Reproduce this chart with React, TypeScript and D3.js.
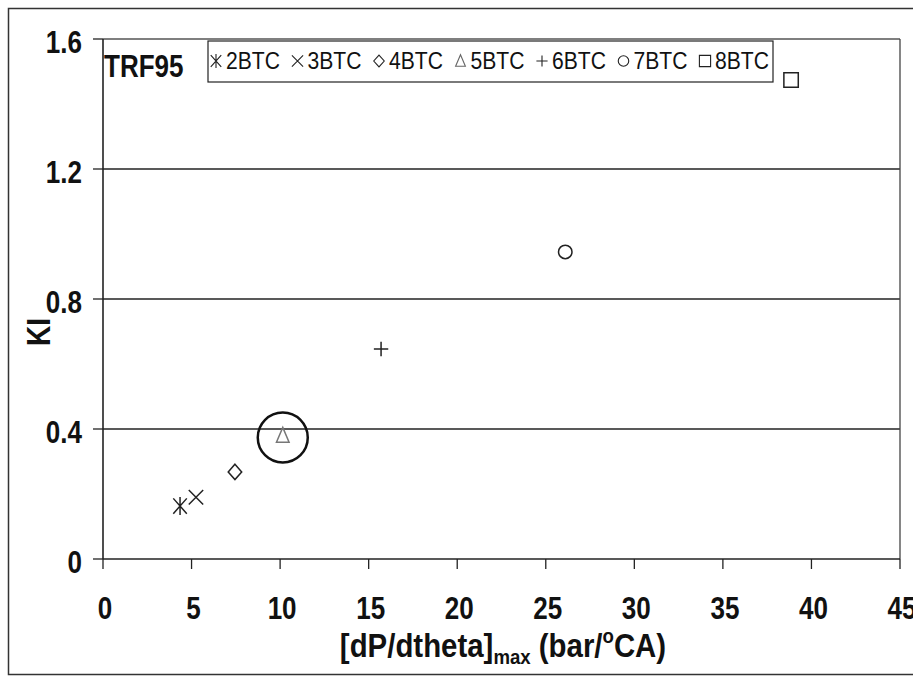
import React from 'react';
import * as d3 from 'd3';

const seriesNames = ['2BTC', '3BTC', '4BTC', '5BTC', '6BTC', '7BTC', '8BTC'];
const xValues = [4.35, 5.25, 7.45, 10.15, 15.7, 26.1, 38.85];
const yValues = [0.163, 0.19, 0.268, 0.38, 0.646, 0.945, 1.474];
const markerTypes = ['asterisk', 'times', 'diamond', 'triangle', 'plus', 'circle', 'square'];
const xTicks = [0, 5, 10, 15, 20, 25, 30, 35, 40, 45];
const yTicks = [0, 0.4, 0.8, 1.2, 1.6];
const yTickLabels = ['0', '0.4', '0.8', '1.2', '1.6'];
const gridValues = [0.4, 0.8, 1.2];
const highlighted = '5BTC';
const chartTag = 'TRF95';

const FONT = "'Liberation Sans', Arial, Helvetica, sans-serif";

function markerPath(type: string, s: number): string {
  const p = d3.path();
  switch (type) {
    case 'asterisk':
      p.moveTo(0, -s); p.lineTo(0, s);
      p.moveTo(-0.75 * s, -0.85 * s); p.lineTo(0.75 * s, 0.85 * s);
      p.moveTo(0.75 * s, -0.85 * s); p.lineTo(-0.75 * s, 0.85 * s);
      break;
    case 'times':
      p.moveTo(-0.8 * s, -0.8 * s); p.lineTo(0.8 * s, 0.8 * s);
      p.moveTo(0.8 * s, -0.8 * s); p.lineTo(-0.8 * s, 0.8 * s);
      break;
    case 'diamond':
      p.moveTo(0, -0.85 * s); p.lineTo(0.75 * s, 0); p.lineTo(0, 0.85 * s); p.lineTo(-0.75 * s, 0); p.closePath();
      break;
    case 'triangle':
      p.moveTo(0, -0.9 * s); p.lineTo(0.7 * s, 0.75 * s); p.lineTo(-0.7 * s, 0.75 * s); p.closePath();
      break;
    case 'plus':
      p.moveTo(-0.8 * s, 0); p.lineTo(0.8 * s, 0);
      p.moveTo(0, -0.8 * s); p.lineTo(0, 0.8 * s);
      break;
    case 'circle':
      p.moveTo(0.75 * s, 0); p.arc(0, 0, 0.75 * s, 0, Math.PI * 2);
      break;
    case 'square':
      p.rect(-0.8 * s, -0.8 * s, 1.6 * s, 1.6 * s);
      break;
  }
  return p.toString();
}

const SX = 0.93, SY = 1.12;

export default function App() {
  const W = 913, H = 677;
  const x = d3.scaleLinear().domain([0, 45]).range([103, 900]);
  const y = d3.scaleLinear().domain([0, 1.6]).range([559, 39]);
  const hiIdx = seriesNames.indexOf(highlighted);

  return (
    <svg width={W} height={H} style={{ position: 'absolute', left: 0, top: 0, background: '#fff' }} fontFamily={FONT}>
      <rect x={0} y={0} width={W} height={H} fill="#fff" />
      {/* outer frame */}
      <rect x={8.5} y={8.5} width={920} height={666} fill="none" stroke="#333" strokeWidth={1.5} />

      {/* grid lines */}
      {gridValues.map((v) => (
        <line key={v} x1={x(0)} x2={x(45)} y1={y(v)} y2={y(v)} stroke="#222" strokeWidth={1.3} />
      ))}
      {/* plot frame top/right */}
      <line x1={x(0)} x2={x(45)} y1={y(1.6)} y2={y(1.6)} stroke="#555" strokeWidth={1.3} />
      <line x1={x(45)} x2={x(45)} y1={y(1.6)} y2={y(0)} stroke="#444" strokeWidth={1.3} />

      {/* axes */}
      <line x1={x(0)} x2={x(45)} y1={y(0)} y2={y(0)} stroke="#222" strokeWidth={1.6} />
      <line x1={x(0)} x2={x(0)} y1={y(1.6)} y2={y(0)} stroke="#222" strokeWidth={1.6} />
      {xTicks.map((t) => (
        <g key={t}>
          <line x1={x(t)} x2={x(t)} y1={y(0)} y2={y(0) + 10} stroke="#222" strokeWidth={1.3} />
          <text transform={`translate(${x(t) + 2},619) scale(${SX},${SY})`} textAnchor="middle" fontSize={28} fontWeight="bold" fill="#111">{t}</text>
        </g>
      ))}
      {yTicks.map((t, i) => (
        <g key={t}>
          <line x1={x(0) - 10} x2={x(0)} y1={y(t)} y2={y(t)} stroke="#222" strokeWidth={1.3} />
          <text transform={`translate(82,${y(t) + 14}) scale(${SX},${SY})`} textAnchor="end" fontSize={28} fontWeight="bold" fill="#111">{yTickLabels[i]}</text>
        </g>
      ))}

      {/* axis titles */}
      <text transform={`translate(503,657) scale(0.98,1.1)`} textAnchor="middle" fontSize={30} fontWeight="bold" fill="#111">
        [dP/dtheta]<tspan fontSize={19} dy={6}>max</tspan><tspan dy={-6}> (bar/</tspan><tspan fontSize={19} dy={-13}>o</tspan><tspan dy={13}>CA)</tspan>
      </text>
      <text transform={`translate(50,332) rotate(-90) scale(${SX},${SY})`} textAnchor="middle" fontSize={30} fontWeight="bold" fill="#111">KI</text>

      {/* tag */}
      <text transform={`translate(104,77) scale(${SX},${SY})`} fontSize={28} fontWeight="bold" fill="#111">{chartTag}</text>

      {/* legend */}
      <rect x={208} y={41} width={565} height={41} fill="#fff" stroke="#222" strokeWidth={1.2} />
      {seriesNames.map((name, i) => {
        const cx = 216 + 81.5 * i;
        return (
          <g key={name}>
            <path d={markerPath(markerTypes[i], 7)} transform={`translate(${cx},61)`} fill="none"
              stroke={markerTypes[i] === 'triangle' ? '#666' : '#222'} strokeWidth={1.1} />
            <text transform={`translate(${cx + 10},69) scale(0.96,1.08)`} fontSize={22} fill="#111">{name}</text>
          </g>
        );
      })}

      {/* data markers */}
      {seriesNames.map((name, i) => (
        <path key={name} d={markerPath(markerTypes[i], 9)} transform={`translate(${x(xValues[i])},${y(yValues[i])})`}
          fill="none" stroke={markerTypes[i] === 'triangle' ? '#777' : '#222'} strokeWidth={1.5} />
      ))}
      {hiIdx >= 0 && (
        <circle cx={x(xValues[hiIdx])} cy={y(yValues[hiIdx]) + 2} r={25} fill="none" stroke="#111" strokeWidth={2.5} />
      )}
    </svg>
  );
}
